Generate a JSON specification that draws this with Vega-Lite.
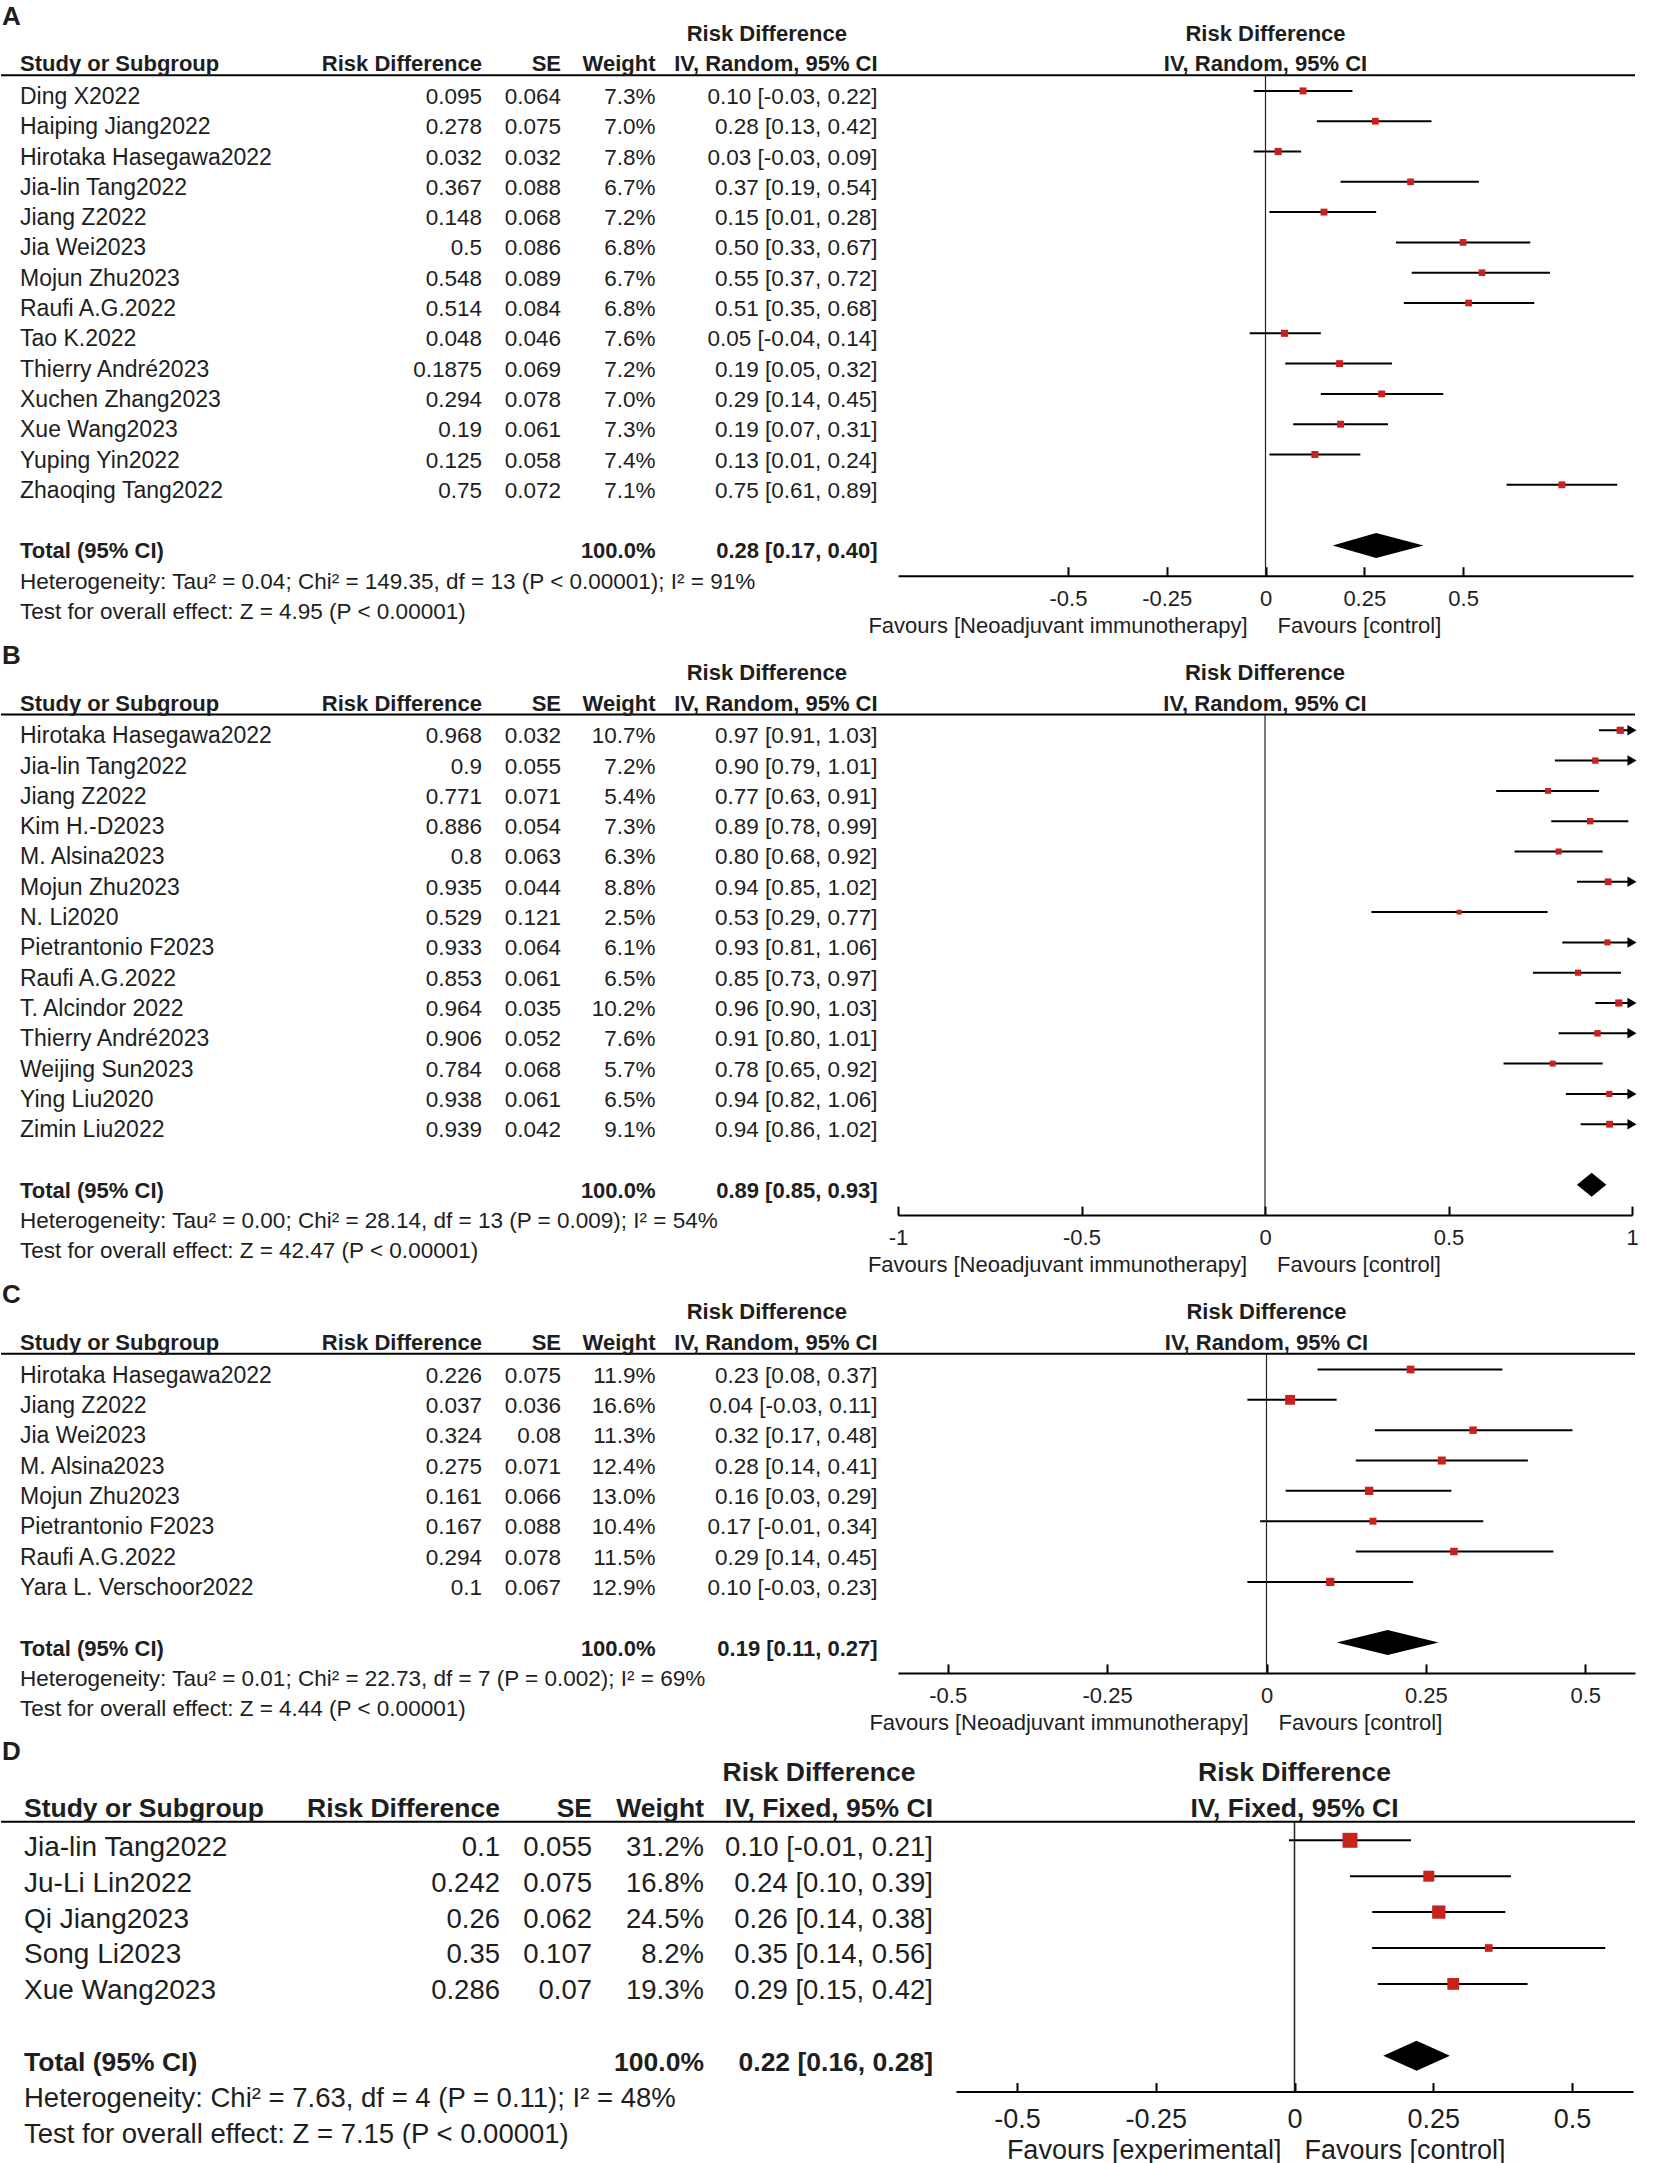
{
"$schema": "https://vega.github.io/schema/vega-lite/v6.json",
"padding": 0,
"background": "white",
"bounds": "flush",
"spacing": 90,
"config": {"view": {"stroke": null}, "text": {"font": "Liberation Sans", "color": "#1e1e1e", "baseline": "middle"}, "rule": {"color": "#000"}},
"datasets": {
"one": [{"k": 1}],
"A": [
{"row":1,"study":"Ding X2022","rd":0.095,"se":0.064,"w":0.073,"ci":"0.10 [-0.03, 0.22]","lo":-0.03,"hi":0.22},
{"row":2,"study":"Haiping Jiang2022","rd":0.278,"se":0.075,"w":0.070,"ci":"0.28 [0.13, 0.42]","lo":0.13,"hi":0.42},
{"row":3,"study":"Hirotaka Hasegawa2022","rd":0.032,"se":0.032,"w":0.078,"ci":"0.03 [-0.03, 0.09]","lo":-0.03,"hi":0.09},
{"row":4,"study":"Jia-lin Tang2022","rd":0.367,"se":0.088,"w":0.067,"ci":"0.37 [0.19, 0.54]","lo":0.19,"hi":0.54},
{"row":5,"study":"Jiang Z2022","rd":0.148,"se":0.068,"w":0.072,"ci":"0.15 [0.01, 0.28]","lo":0.01,"hi":0.28},
{"row":6,"study":"Jia Wei2023","rd":0.5,"se":0.086,"w":0.068,"ci":"0.50 [0.33, 0.67]","lo":0.33,"hi":0.67},
{"row":7,"study":"Mojun Zhu2023","rd":0.548,"se":0.089,"w":0.067,"ci":"0.55 [0.37, 0.72]","lo":0.37,"hi":0.72},
{"row":8,"study":"Raufi A.G.2022","rd":0.514,"se":0.084,"w":0.068,"ci":"0.51 [0.35, 0.68]","lo":0.35,"hi":0.68},
{"row":9,"study":"Tao K.2022","rd":0.048,"se":0.046,"w":0.076,"ci":"0.05 [-0.04, 0.14]","lo":-0.04,"hi":0.14},
{"row":10,"study":"Thierry André2023","rd":0.1875,"se":0.069,"w":0.072,"ci":"0.19 [0.05, 0.32]","lo":0.05,"hi":0.32},
{"row":11,"study":"Xuchen Zhang2023","rd":0.294,"se":0.078,"w":0.070,"ci":"0.29 [0.14, 0.45]","lo":0.14,"hi":0.45},
{"row":12,"study":"Xue Wang2023","rd":0.19,"se":0.061,"w":0.073,"ci":"0.19 [0.07, 0.31]","lo":0.07,"hi":0.31},
{"row":13,"study":"Yuping Yin2022","rd":0.125,"se":0.058,"w":0.074,"ci":"0.13 [0.01, 0.24]","lo":0.01,"hi":0.24},
{"row":14,"study":"Zhaoqing Tang2022","rd":0.75,"se":0.072,"w":0.071,"ci":"0.75 [0.61, 0.89]","lo":0.61,"hi":0.89}
],
"At": [{"row":16,"label":"Total (95% CI)","w":1,"ci":"0.28 [0.17, 0.40]","est":0.28,"lo":0.17,"hi":0.40}],
"An": [
{"row":17,"text":"Heterogeneity: Tau² = 0.04; Chi² = 149.35, df = 13 (P < 0.00001); I² = 91%"},
{"row":18,"text":"Test for overall effect: Z = 4.95 (P < 0.00001)"}
],
"B": [
{"row":1,"study":"Hirotaka Hasegawa2022","rd":0.968,"se":0.032,"w":0.107,"ci":"0.97 [0.91, 1.03]","lo":0.91,"hi":1.03},
{"row":2,"study":"Jia-lin Tang2022","rd":0.9,"se":0.055,"w":0.072,"ci":"0.90 [0.79, 1.01]","lo":0.79,"hi":1.01},
{"row":3,"study":"Jiang Z2022","rd":0.771,"se":0.071,"w":0.054,"ci":"0.77 [0.63, 0.91]","lo":0.63,"hi":0.91},
{"row":4,"study":"Kim H.-D2023","rd":0.886,"se":0.054,"w":0.073,"ci":"0.89 [0.78, 0.99]","lo":0.78,"hi":0.99},
{"row":5,"study":"M. Alsina2023","rd":0.8,"se":0.063,"w":0.063,"ci":"0.80 [0.68, 0.92]","lo":0.68,"hi":0.92},
{"row":6,"study":"Mojun Zhu2023","rd":0.935,"se":0.044,"w":0.088,"ci":"0.94 [0.85, 1.02]","lo":0.85,"hi":1.02},
{"row":7,"study":"N. Li2020","rd":0.529,"se":0.121,"w":0.025,"ci":"0.53 [0.29, 0.77]","lo":0.29,"hi":0.77},
{"row":8,"study":"Pietrantonio F2023","rd":0.933,"se":0.064,"w":0.061,"ci":"0.93 [0.81, 1.06]","lo":0.81,"hi":1.06},
{"row":9,"study":"Raufi A.G.2022","rd":0.853,"se":0.061,"w":0.065,"ci":"0.85 [0.73, 0.97]","lo":0.73,"hi":0.97},
{"row":10,"study":"T. Alcindor 2022","rd":0.964,"se":0.035,"w":0.102,"ci":"0.96 [0.90, 1.03]","lo":0.90,"hi":1.03},
{"row":11,"study":"Thierry André2023","rd":0.906,"se":0.052,"w":0.076,"ci":"0.91 [0.80, 1.01]","lo":0.80,"hi":1.01},
{"row":12,"study":"Weijing Sun2023","rd":0.784,"se":0.068,"w":0.057,"ci":"0.78 [0.65, 0.92]","lo":0.65,"hi":0.92},
{"row":13,"study":"Ying Liu2020","rd":0.938,"se":0.061,"w":0.065,"ci":"0.94 [0.82, 1.06]","lo":0.82,"hi":1.06},
{"row":14,"study":"Zimin Liu2022","rd":0.939,"se":0.042,"w":0.091,"ci":"0.94 [0.86, 1.02]","lo":0.86,"hi":1.02}
],
"Bt": [{"row":16,"label":"Total (95% CI)","w":1,"ci":"0.89 [0.85, 0.93]","est":0.89,"lo":0.85,"hi":0.93}],
"Bn": [
{"row":17,"text":"Heterogeneity: Tau² = 0.00; Chi² = 28.14, df = 13 (P = 0.009); I² = 54%"},
{"row":18,"text":"Test for overall effect: Z = 42.47 (P < 0.00001)"}
],
"C": [
{"row":1,"study":"Hirotaka Hasegawa2022","rd":0.226,"se":0.075,"w":0.119,"ci":"0.23 [0.08, 0.37]","lo":0.08,"hi":0.37},
{"row":2,"study":"Jiang Z2022","rd":0.037,"se":0.036,"w":0.166,"ci":"0.04 [-0.03, 0.11]","lo":-0.03,"hi":0.11},
{"row":3,"study":"Jia Wei2023","rd":0.324,"se":0.08,"w":0.113,"ci":"0.32 [0.17, 0.48]","lo":0.17,"hi":0.48},
{"row":4,"study":"M. Alsina2023","rd":0.275,"se":0.071,"w":0.124,"ci":"0.28 [0.14, 0.41]","lo":0.14,"hi":0.41},
{"row":5,"study":"Mojun Zhu2023","rd":0.161,"se":0.066,"w":0.130,"ci":"0.16 [0.03, 0.29]","lo":0.03,"hi":0.29},
{"row":6,"study":"Pietrantonio F2023","rd":0.167,"se":0.088,"w":0.104,"ci":"0.17 [-0.01, 0.34]","lo":-0.01,"hi":0.34},
{"row":7,"study":"Raufi A.G.2022","rd":0.294,"se":0.078,"w":0.115,"ci":"0.29 [0.14, 0.45]","lo":0.14,"hi":0.45},
{"row":8,"study":"Yara L. Verschoor2022","rd":0.1,"se":0.067,"w":0.129,"ci":"0.10 [-0.03, 0.23]","lo":-0.03,"hi":0.23}
],
"Ct": [{"row":10,"label":"Total (95% CI)","w":1,"ci":"0.19 [0.11, 0.27]","est":0.19,"lo":0.11,"hi":0.27}],
"Cn": [
{"row":11,"text":"Heterogeneity: Tau² = 0.01; Chi² = 22.73, df = 7 (P = 0.002); I² = 69%"},
{"row":12,"text":"Test for overall effect: Z = 4.44 (P < 0.00001)"}
],
"D": [
{"row":1,"study":"Jia-lin Tang2022","rd":0.1,"se":0.055,"w":0.312,"ci":"0.10 [-0.01, 0.21]","lo":-0.01,"hi":0.21},
{"row":2,"study":"Ju-Li Lin2022","rd":0.242,"se":0.075,"w":0.168,"ci":"0.24 [0.10, 0.39]","lo":0.10,"hi":0.39},
{"row":3,"study":"Qi Jiang2023","rd":0.26,"se":0.062,"w":0.245,"ci":"0.26 [0.14, 0.38]","lo":0.14,"hi":0.38},
{"row":4,"study":"Song Li2023","rd":0.35,"se":0.107,"w":0.082,"ci":"0.35 [0.14, 0.56]","lo":0.14,"hi":0.56},
{"row":5,"study":"Xue Wang2023","rd":0.286,"se":0.07,"w":0.193,"ci":"0.29 [0.15, 0.42]","lo":0.15,"hi":0.42}
],
"Dt": [{"row":7,"label":"Total (95% CI)","w":1,"ci":"0.22 [0.16, 0.28]","est":0.22,"lo":0.16,"hi":0.28}],
"Dn": [
{"row":8,"text":"Heterogeneity: Chi² = 7.63, df = 4 (P = 0.11); I² = 48%"},
{"row":9,"text":"Test for overall effect: Z = 7.15 (P < 0.00001)"}
]
},
"vconcat": [
{
"width": 1634, "height": 575.7,
"resolve": {"scale": {"x": "independent", "size": "independent"}, "axis": {"x": "independent"}},
"layer": [
{"data": {"name": "one"}, "mark": {"type": "rule", "strokeWidth": 2}, "encoding": {"y": {"datum": 0.48, "type": "quantitative", "axis": null, "scale": {"domain": [-2, 17], "reverse": true, "nice": false, "zero": false}}}},
{"data": {"name": "one"}, "mark": {"type": "text", "align": "left", "fontSize": 26, "fontWeight": "bold"}, "encoding": {"x": {"datum": 1, "type": "quantitative", "scale": {"domain": [0, 1634], "nice": false, "zero": false}, "axis": null}, "y": {"datum": -1.45, "type": "quantitative", "axis": null}, "text": {"value": "A"}}},
{"data": {"name": "one"}, "mark": {"type": "text", "align": "left", "fontSize": 22, "fontWeight": "bold", "dy": 6}, "encoding": {"x": {"datum": 19, "type": "quantitative", "scale": {"domain": [0, 1634], "nice": false, "zero": false}, "axis": null}, "y": {"datum": -0.08, "type": "quantitative", "axis": null}, "text": {"value": "Study or Subgroup"}}},
{"data": {"name": "one"}, "mark": {"type": "text", "align": "right", "fontSize": 22, "fontWeight": "bold", "dy": 6}, "encoding": {"x": {"datum": 481, "type": "quantitative", "scale": {"domain": [0, 1634], "nice": false, "zero": false}, "axis": null}, "y": {"datum": -0.08, "type": "quantitative", "axis": null}, "text": {"value": "Risk Difference"}}},
{"data": {"name": "one"}, "mark": {"type": "text", "align": "right", "fontSize": 22, "fontWeight": "bold", "dy": 6}, "encoding": {"x": {"datum": 560, "type": "quantitative", "scale": {"domain": [0, 1634], "nice": false, "zero": false}, "axis": null}, "y": {"datum": -0.08, "type": "quantitative", "axis": null}, "text": {"value": "SE"}}},
{"data": {"name": "one"}, "mark": {"type": "text", "align": "right", "fontSize": 22, "fontWeight": "bold", "dy": 6}, "encoding": {"x": {"datum": 654.5, "type": "quantitative", "scale": {"domain": [0, 1634], "nice": false, "zero": false}, "axis": null}, "y": {"datum": -0.08, "type": "quantitative", "axis": null}, "text": {"value": "Weight"}}},
{"data": {"name": "one"}, "mark": {"type": "text", "align": "right", "fontSize": 22, "fontWeight": "bold", "dy": 6}, "encoding": {"x": {"datum": 876.6, "type": "quantitative", "scale": {"domain": [0, 1634], "nice": false, "zero": false}, "axis": null}, "y": {"datum": -0.08, "type": "quantitative", "axis": null}, "text": {"value": "IV, Random, 95% CI"}}},
{"data": {"name": "one"}, "mark": {"type": "text", "align": "center", "fontSize": 22, "fontWeight": "bold", "dy": 6}, "encoding": {"x": {"datum": 765.8, "type": "quantitative", "scale": {"domain": [0, 1634], "nice": false, "zero": false}, "axis": null}, "y": {"datum": -1.08, "type": "quantitative", "axis": null}, "text": {"value": "Risk Difference"}}},
{"data": {"name": "A"}, "mark": {"type": "text", "align": "left", "fontSize": 23, "dy": 6}, "encoding": {"x": {"datum": 19, "type": "quantitative", "scale": {"domain": [0, 1634], "nice": false, "zero": false}, "axis": null}, "y": {"field": "row", "type": "quantitative", "axis": null}, "text": {"field": "study"}}},
{"data": {"name": "A"}, "mark": {"type": "text", "align": "right", "fontSize": 22.5, "dy": 6}, "encoding": {"x": {"datum": 481, "type": "quantitative", "scale": {"domain": [0, 1634], "nice": false, "zero": false}, "axis": null}, "y": {"field": "row", "type": "quantitative", "axis": null}, "text": {"field": "rd", "type": "nominal"}}},
{"data": {"name": "A"}, "mark": {"type": "text", "align": "right", "fontSize": 22.5, "dy": 6}, "encoding": {"x": {"datum": 560, "type": "quantitative", "scale": {"domain": [0, 1634], "nice": false, "zero": false}, "axis": null}, "y": {"field": "row", "type": "quantitative", "axis": null}, "text": {"field": "se", "type": "nominal"}}},
{"data": {"name": "A"}, "mark": {"type": "text", "align": "right", "fontSize": 22.5, "dy": 6}, "encoding": {"x": {"datum": 654.5, "type": "quantitative", "scale": {"domain": [0, 1634], "nice": false, "zero": false}, "axis": null}, "y": {"field": "row", "type": "quantitative", "axis": null}, "text": {"field": "w", "type": "quantitative", "format": ".1%"}}},
{"data": {"name": "A"}, "mark": {"type": "text", "align": "right", "fontSize": 22.5, "dy": 6}, "encoding": {"x": {"datum": 876.6, "type": "quantitative", "scale": {"domain": [0, 1634], "nice": false, "zero": false}, "axis": null}, "y": {"field": "row", "type": "quantitative", "axis": null}, "text": {"field": "ci"}}},
{"data": {"name": "At"}, "mark": {"type": "text", "align": "left", "fontSize": 22, "fontWeight": "bold", "dy": 6}, "encoding": {"x": {"datum": 19, "type": "quantitative", "scale": {"domain": [0, 1634], "nice": false, "zero": false}, "axis": null}, "y": {"field": "row", "type": "quantitative", "axis": null}, "text": {"field": "label"}}},
{"data": {"name": "At"}, "mark": {"type": "text", "align": "right", "fontSize": 22, "fontWeight": "bold", "dy": 6}, "encoding": {"x": {"datum": 654.5, "type": "quantitative", "scale": {"domain": [0, 1634], "nice": false, "zero": false}, "axis": null}, "y": {"field": "row", "type": "quantitative", "axis": null}, "text": {"field": "w", "type": "quantitative", "format": ".1%"}}},
{"data": {"name": "At"}, "mark": {"type": "text", "align": "right", "fontSize": 22, "fontWeight": "bold", "dy": 6}, "encoding": {"x": {"datum": 876.6, "type": "quantitative", "scale": {"domain": [0, 1634], "nice": false, "zero": false}, "axis": null}, "y": {"field": "row", "type": "quantitative", "axis": null}, "text": {"field": "ci"}}},
{"data": {"name": "An"}, "mark": {"type": "text", "align": "left", "fontSize": 22.5, "dy": 6}, "encoding": {"x": {"datum": 19, "type": "quantitative", "scale": {"domain": [0, 1634], "nice": false, "zero": false}, "axis": null}, "y": {"field": "row", "type": "quantitative", "axis": null}, "text": {"field": "text"}}},
{"data": {"name": "A"}, "mark": {"type": "rule", "strokeWidth": 2}, "encoding": {"x": {"field": "lo", "type": "quantitative", "scale": {"domain": [-0.93, 0.93], "range": [897, 1632], "nice": false, "zero": false, "clamp": true}, "axis": {"orient": "bottom", "values": [-0.5, -0.25, 0, 0.25, 0.5], "title": null, "grid": false, "domainColor": "#000", "domainWidth": 2, "tickColor": "#000", "tickWidth": 2, "tickSize": -9, "labelPadding": 21.5, "labelFontSize": 22, "labelFont": "Liberation Sans", "labelColor": "#1e1e1e", "labelFlush": false, "labelOverlap": false, "labelExpr": "datum.value < 0 ? '-' + format(-datum.value, '~g') : format(datum.value, '~g')"}}, "x2": {"field": "hi"}, "y": {"field": "row", "type": "quantitative", "axis": null}}},
{"data": {"name": "A"}, "mark": {"type": "point", "shape": "square", "filled": true, "color": "#c9211e", "opacity": 1, "strokeWidth": 0}, "encoding": {"x": {"field": "rd", "type": "quantitative", "scale": {"domain": [-0.93, 0.93], "range": [897, 1632], "nice": false, "zero": false, "clamp": true}, "axis": null}, "y": {"field": "row", "type": "quantitative", "axis": null}, "size": {"field": "w", "type": "quantitative", "scale": {"domain": [0, 0.1], "range": [0, 66]}, "legend": null}}},
{"data": {"name": "At"}, "mark": {"type": "point", "shape": "M-0.917,0L0,-0.264L1,0L0,0.264Z", "size": 8987, "filled": true, "color": "#000", "opacity": 1, "strokeWidth": 0}, "encoding": {"x": {"field": "est", "type": "quantitative", "scale": {"domain": [-0.93, 0.93], "range": [897, 1632], "nice": false, "zero": false, "clamp": true}, "axis": null}, "y": {"field": "row", "type": "quantitative", "axis": null}}},
{"data": {"name": "one"}, "mark": {"type": "rule", "strokeWidth": 1.2, "color": "#222"}, "encoding": {"x": {"datum": 0, "type": "quantitative", "scale": {"domain": [-0.93, 0.93], "range": [897, 1632], "nice": false, "zero": false, "clamp": true}, "axis": null}, "y": {"datum": 0.48, "type": "quantitative", "axis": null}, "y2": {"datum": 17}}},
{"data": {"name": "one"}, "mark": {"type": "text", "align": "center", "fontSize": 22, "fontWeight": "bold", "dy": 6}, "encoding": {"x": {"datum": 0, "type": "quantitative", "scale": {"domain": [-0.93, 0.93], "range": [897, 1632], "nice": false, "zero": false, "clamp": true}, "axis": null}, "y": {"datum": -1.08, "type": "quantitative", "axis": null}, "text": {"value": "Risk Difference"}}},
{"data": {"name": "one"}, "mark": {"type": "text", "align": "center", "fontSize": 22, "fontWeight": "bold", "dy": 6}, "encoding": {"x": {"datum": 0, "type": "quantitative", "scale": {"domain": [-0.93, 0.93], "range": [897, 1632], "nice": false, "zero": false, "clamp": true}, "axis": null}, "y": {"datum": -0.08, "type": "quantitative", "axis": null}, "text": {"value": "IV, Random, 95% CI"}}},
{"data": {"name": "one"}, "mark": {"type": "text", "align": "right", "fontSize": 22, "dx": -18, "dy": 6}, "encoding": {"x": {"datum": 0, "type": "quantitative", "scale": {"domain": [-0.93, 0.93], "range": [897, 1632], "nice": false, "zero": false, "clamp": true}, "axis": null}, "y": {"datum": 18.45, "type": "quantitative", "axis": null}, "text": {"value": "Favours [Neoadjuvant immunotherapy]"}}},
{"data": {"name": "one"}, "mark": {"type": "text", "align": "left", "fontSize": 22, "dx": 12, "dy": 6}, "encoding": {"x": {"datum": 0, "type": "quantitative", "scale": {"domain": [-0.93, 0.93], "range": [897, 1632], "nice": false, "zero": false, "clamp": true}, "axis": null}, "y": {"datum": 18.45, "type": "quantitative", "axis": null}, "text": {"value": "Favours [control]"}}}
]
},
{
"width": 1634, "height": 549.1,
"resolve": {"scale": {"x": "independent", "size": "independent"}, "axis": {"x": "independent"}},
"layer": [
{"data": {"name": "one"}, "mark": {"type": "rule", "strokeWidth": 2}, "encoding": {"y": {"datum": 0.48, "type": "quantitative", "axis": null, "scale": {"domain": [-1.122, 17], "reverse": true, "nice": false, "zero": false}}}},
{"data": {"name": "one"}, "mark": {"type": "text", "align": "left", "fontSize": 26, "fontWeight": "bold"}, "encoding": {"x": {"datum": 1, "type": "quantitative", "scale": {"domain": [0, 1634], "nice": false, "zero": false}, "axis": null}, "y": {"datum": -1.45, "type": "quantitative", "axis": null}, "text": {"value": "B"}}},
{"data": {"name": "one"}, "mark": {"type": "text", "align": "left", "fontSize": 22, "fontWeight": "bold", "dy": 6}, "encoding": {"x": {"datum": 19, "type": "quantitative", "scale": {"domain": [0, 1634], "nice": false, "zero": false}, "axis": null}, "y": {"datum": -0.08, "type": "quantitative", "axis": null}, "text": {"value": "Study or Subgroup"}}},
{"data": {"name": "one"}, "mark": {"type": "text", "align": "right", "fontSize": 22, "fontWeight": "bold", "dy": 6}, "encoding": {"x": {"datum": 481, "type": "quantitative", "scale": {"domain": [0, 1634], "nice": false, "zero": false}, "axis": null}, "y": {"datum": -0.08, "type": "quantitative", "axis": null}, "text": {"value": "Risk Difference"}}},
{"data": {"name": "one"}, "mark": {"type": "text", "align": "right", "fontSize": 22, "fontWeight": "bold", "dy": 6}, "encoding": {"x": {"datum": 560, "type": "quantitative", "scale": {"domain": [0, 1634], "nice": false, "zero": false}, "axis": null}, "y": {"datum": -0.08, "type": "quantitative", "axis": null}, "text": {"value": "SE"}}},
{"data": {"name": "one"}, "mark": {"type": "text", "align": "right", "fontSize": 22, "fontWeight": "bold", "dy": 6}, "encoding": {"x": {"datum": 654.5, "type": "quantitative", "scale": {"domain": [0, 1634], "nice": false, "zero": false}, "axis": null}, "y": {"datum": -0.08, "type": "quantitative", "axis": null}, "text": {"value": "Weight"}}},
{"data": {"name": "one"}, "mark": {"type": "text", "align": "right", "fontSize": 22, "fontWeight": "bold", "dy": 6}, "encoding": {"x": {"datum": 876.6, "type": "quantitative", "scale": {"domain": [0, 1634], "nice": false, "zero": false}, "axis": null}, "y": {"datum": -0.08, "type": "quantitative", "axis": null}, "text": {"value": "IV, Random, 95% CI"}}},
{"data": {"name": "one"}, "mark": {"type": "text", "align": "center", "fontSize": 22, "fontWeight": "bold", "dy": 6}, "encoding": {"x": {"datum": 765.8, "type": "quantitative", "scale": {"domain": [0, 1634], "nice": false, "zero": false}, "axis": null}, "y": {"datum": -1.08, "type": "quantitative", "axis": null}, "text": {"value": "Risk Difference"}}},
{"data": {"name": "B"}, "mark": {"type": "text", "align": "left", "fontSize": 23, "dy": 6}, "encoding": {"x": {"datum": 19, "type": "quantitative", "scale": {"domain": [0, 1634], "nice": false, "zero": false}, "axis": null}, "y": {"field": "row", "type": "quantitative", "axis": null}, "text": {"field": "study"}}},
{"data": {"name": "B"}, "mark": {"type": "text", "align": "right", "fontSize": 22.5, "dy": 6}, "encoding": {"x": {"datum": 481, "type": "quantitative", "scale": {"domain": [0, 1634], "nice": false, "zero": false}, "axis": null}, "y": {"field": "row", "type": "quantitative", "axis": null}, "text": {"field": "rd", "type": "nominal"}}},
{"data": {"name": "B"}, "mark": {"type": "text", "align": "right", "fontSize": 22.5, "dy": 6}, "encoding": {"x": {"datum": 560, "type": "quantitative", "scale": {"domain": [0, 1634], "nice": false, "zero": false}, "axis": null}, "y": {"field": "row", "type": "quantitative", "axis": null}, "text": {"field": "se", "type": "nominal"}}},
{"data": {"name": "B"}, "mark": {"type": "text", "align": "right", "fontSize": 22.5, "dy": 6}, "encoding": {"x": {"datum": 654.5, "type": "quantitative", "scale": {"domain": [0, 1634], "nice": false, "zero": false}, "axis": null}, "y": {"field": "row", "type": "quantitative", "axis": null}, "text": {"field": "w", "type": "quantitative", "format": ".1%"}}},
{"data": {"name": "B"}, "mark": {"type": "text", "align": "right", "fontSize": 22.5, "dy": 6}, "encoding": {"x": {"datum": 876.6, "type": "quantitative", "scale": {"domain": [0, 1634], "nice": false, "zero": false}, "axis": null}, "y": {"field": "row", "type": "quantitative", "axis": null}, "text": {"field": "ci"}}},
{"data": {"name": "Bt"}, "mark": {"type": "text", "align": "left", "fontSize": 22, "fontWeight": "bold", "dy": 6}, "encoding": {"x": {"datum": 19, "type": "quantitative", "scale": {"domain": [0, 1634], "nice": false, "zero": false}, "axis": null}, "y": {"field": "row", "type": "quantitative", "axis": null}, "text": {"field": "label"}}},
{"data": {"name": "Bt"}, "mark": {"type": "text", "align": "right", "fontSize": 22, "fontWeight": "bold", "dy": 6}, "encoding": {"x": {"datum": 654.5, "type": "quantitative", "scale": {"domain": [0, 1634], "nice": false, "zero": false}, "axis": null}, "y": {"field": "row", "type": "quantitative", "axis": null}, "text": {"field": "w", "type": "quantitative", "format": ".1%"}}},
{"data": {"name": "Bt"}, "mark": {"type": "text", "align": "right", "fontSize": 22, "fontWeight": "bold", "dy": 6}, "encoding": {"x": {"datum": 876.6, "type": "quantitative", "scale": {"domain": [0, 1634], "nice": false, "zero": false}, "axis": null}, "y": {"field": "row", "type": "quantitative", "axis": null}, "text": {"field": "ci"}}},
{"data": {"name": "Bn"}, "mark": {"type": "text", "align": "left", "fontSize": 22.5, "dy": 6}, "encoding": {"x": {"datum": 19, "type": "quantitative", "scale": {"domain": [0, 1634], "nice": false, "zero": false}, "axis": null}, "y": {"field": "row", "type": "quantitative", "axis": null}, "text": {"field": "text"}}},
{"data": {"name": "B"}, "mark": {"type": "rule", "strokeWidth": 2}, "encoding": {"x": {"field": "lo", "type": "quantitative", "scale": {"domain": [-1, 1], "range": [897, 1631], "nice": false, "zero": false, "clamp": true}, "axis": {"orient": "bottom", "values": [-1, -0.5, 0, 0.5, 1], "title": null, "grid": false, "domainColor": "#000", "domainWidth": 2, "tickColor": "#000", "tickWidth": 2, "tickSize": -9, "labelPadding": 21.5, "labelFontSize": 22, "labelFont": "Liberation Sans", "labelColor": "#1e1e1e", "labelFlush": false, "labelOverlap": false, "labelExpr": "datum.value < 0 ? '-' + format(-datum.value, '~g') : format(datum.value, '~g')"}}, "x2": {"field": "hi"}, "y": {"field": "row", "type": "quantitative", "axis": null}}},
{"data": {"name": "B"}, "mark": {"type": "point", "shape": "square", "filled": true, "color": "#c9211e", "opacity": 1, "strokeWidth": 0}, "encoding": {"x": {"field": "rd", "type": "quantitative", "scale": {"domain": [-1, 1], "range": [897, 1631], "nice": false, "zero": false, "clamp": true}, "axis": null}, "y": {"field": "row", "type": "quantitative", "axis": null}, "size": {"field": "w", "type": "quantitative", "scale": {"domain": [0, 0.1], "range": [15, 50]}, "legend": null}}},
{"data": {"name": "B"}, "transform": [{"filter": "datum.hi > 1"}], "mark": {"type": "point", "shape": "triangle-right", "filled": true, "color": "#000", "opacity": 1, "strokeWidth": 0, "size": 110}, "encoding": {"x": {"field": "hi", "type": "quantitative", "scale": {"domain": [-1, 1], "range": [897, 1631], "nice": false, "zero": false, "clamp": true}, "axis": null}, "y": {"field": "row", "type": "quantitative", "axis": null}}},
{"data": {"name": "Bt"}, "mark": {"type": "point", "shape": "M-1,0L0,-0.817L1,0L0,0.817Z", "size": 862, "filled": true, "color": "#000", "opacity": 1, "strokeWidth": 0}, "encoding": {"x": {"field": "est", "type": "quantitative", "scale": {"domain": [-1, 1], "range": [897, 1631], "nice": false, "zero": false, "clamp": true}, "axis": null}, "y": {"field": "row", "type": "quantitative", "axis": null}}},
{"data": {"name": "one"}, "mark": {"type": "rule", "strokeWidth": 1.2, "color": "#222"}, "encoding": {"x": {"datum": 0, "type": "quantitative", "scale": {"domain": [-1, 1], "range": [897, 1631], "nice": false, "zero": false, "clamp": true}, "axis": null}, "y": {"datum": 0.48, "type": "quantitative", "axis": null}, "y2": {"datum": 17}}},
{"data": {"name": "one"}, "mark": {"type": "text", "align": "center", "fontSize": 22, "fontWeight": "bold", "dy": 6}, "encoding": {"x": {"datum": 0, "type": "quantitative", "scale": {"domain": [-1, 1], "range": [897, 1631], "nice": false, "zero": false, "clamp": true}, "axis": null}, "y": {"datum": -1.08, "type": "quantitative", "axis": null}, "text": {"value": "Risk Difference"}}},
{"data": {"name": "one"}, "mark": {"type": "text", "align": "center", "fontSize": 22, "fontWeight": "bold", "dy": 6}, "encoding": {"x": {"datum": 0, "type": "quantitative", "scale": {"domain": [-1, 1], "range": [897, 1631], "nice": false, "zero": false, "clamp": true}, "axis": null}, "y": {"datum": -0.08, "type": "quantitative", "axis": null}, "text": {"value": "IV, Random, 95% CI"}}},
{"data": {"name": "one"}, "mark": {"type": "text", "align": "right", "fontSize": 22, "dx": -18, "dy": 6}, "encoding": {"x": {"datum": 0, "type": "quantitative", "scale": {"domain": [-1, 1], "range": [897, 1631], "nice": false, "zero": false, "clamp": true}, "axis": null}, "y": {"datum": 18.45, "type": "quantitative", "axis": null}, "text": {"value": "Favours [Neoadjuvant immunotherapy]"}}},
{"data": {"name": "one"}, "mark": {"type": "text", "align": "left", "fontSize": 22, "dx": 12, "dy": 6}, "encoding": {"x": {"datum": 0, "type": "quantitative", "scale": {"domain": [-1, 1], "range": [897, 1631], "nice": false, "zero": false, "clamp": true}, "axis": null}, "y": {"datum": 18.45, "type": "quantitative", "axis": null}, "text": {"value": "Favours [control]"}}}
]
},
{
"width": 1634, "height": 366.9,
"resolve": {"scale": {"x": "independent", "size": "independent"}, "axis": {"x": "independent"}},
"layer": [
{"data": {"name": "one"}, "mark": {"type": "rule", "strokeWidth": 2}, "encoding": {"y": {"datum": 0.48, "type": "quantitative", "axis": null, "scale": {"domain": [-1.093, 11], "reverse": true, "nice": false, "zero": false}}}},
{"data": {"name": "one"}, "mark": {"type": "text", "align": "left", "fontSize": 26, "fontWeight": "bold"}, "encoding": {"x": {"datum": 1, "type": "quantitative", "scale": {"domain": [0, 1634], "nice": false, "zero": false}, "axis": null}, "y": {"datum": -1.45, "type": "quantitative", "axis": null}, "text": {"value": "C"}}},
{"data": {"name": "one"}, "mark": {"type": "text", "align": "left", "fontSize": 22, "fontWeight": "bold", "dy": 6}, "encoding": {"x": {"datum": 19, "type": "quantitative", "scale": {"domain": [0, 1634], "nice": false, "zero": false}, "axis": null}, "y": {"datum": -0.08, "type": "quantitative", "axis": null}, "text": {"value": "Study or Subgroup"}}},
{"data": {"name": "one"}, "mark": {"type": "text", "align": "right", "fontSize": 22, "fontWeight": "bold", "dy": 6}, "encoding": {"x": {"datum": 481, "type": "quantitative", "scale": {"domain": [0, 1634], "nice": false, "zero": false}, "axis": null}, "y": {"datum": -0.08, "type": "quantitative", "axis": null}, "text": {"value": "Risk Difference"}}},
{"data": {"name": "one"}, "mark": {"type": "text", "align": "right", "fontSize": 22, "fontWeight": "bold", "dy": 6}, "encoding": {"x": {"datum": 560, "type": "quantitative", "scale": {"domain": [0, 1634], "nice": false, "zero": false}, "axis": null}, "y": {"datum": -0.08, "type": "quantitative", "axis": null}, "text": {"value": "SE"}}},
{"data": {"name": "one"}, "mark": {"type": "text", "align": "right", "fontSize": 22, "fontWeight": "bold", "dy": 6}, "encoding": {"x": {"datum": 654.5, "type": "quantitative", "scale": {"domain": [0, 1634], "nice": false, "zero": false}, "axis": null}, "y": {"datum": -0.08, "type": "quantitative", "axis": null}, "text": {"value": "Weight"}}},
{"data": {"name": "one"}, "mark": {"type": "text", "align": "right", "fontSize": 22, "fontWeight": "bold", "dy": 6}, "encoding": {"x": {"datum": 876.6, "type": "quantitative", "scale": {"domain": [0, 1634], "nice": false, "zero": false}, "axis": null}, "y": {"datum": -0.08, "type": "quantitative", "axis": null}, "text": {"value": "IV, Random, 95% CI"}}},
{"data": {"name": "one"}, "mark": {"type": "text", "align": "center", "fontSize": 22, "fontWeight": "bold", "dy": 6}, "encoding": {"x": {"datum": 765.8, "type": "quantitative", "scale": {"domain": [0, 1634], "nice": false, "zero": false}, "axis": null}, "y": {"datum": -1.08, "type": "quantitative", "axis": null}, "text": {"value": "Risk Difference"}}},
{"data": {"name": "C"}, "mark": {"type": "text", "align": "left", "fontSize": 23, "dy": 6}, "encoding": {"x": {"datum": 19, "type": "quantitative", "scale": {"domain": [0, 1634], "nice": false, "zero": false}, "axis": null}, "y": {"field": "row", "type": "quantitative", "axis": null}, "text": {"field": "study"}}},
{"data": {"name": "C"}, "mark": {"type": "text", "align": "right", "fontSize": 22.5, "dy": 6}, "encoding": {"x": {"datum": 481, "type": "quantitative", "scale": {"domain": [0, 1634], "nice": false, "zero": false}, "axis": null}, "y": {"field": "row", "type": "quantitative", "axis": null}, "text": {"field": "rd", "type": "nominal"}}},
{"data": {"name": "C"}, "mark": {"type": "text", "align": "right", "fontSize": 22.5, "dy": 6}, "encoding": {"x": {"datum": 560, "type": "quantitative", "scale": {"domain": [0, 1634], "nice": false, "zero": false}, "axis": null}, "y": {"field": "row", "type": "quantitative", "axis": null}, "text": {"field": "se", "type": "nominal"}}},
{"data": {"name": "C"}, "mark": {"type": "text", "align": "right", "fontSize": 22.5, "dy": 6}, "encoding": {"x": {"datum": 654.5, "type": "quantitative", "scale": {"domain": [0, 1634], "nice": false, "zero": false}, "axis": null}, "y": {"field": "row", "type": "quantitative", "axis": null}, "text": {"field": "w", "type": "quantitative", "format": ".1%"}}},
{"data": {"name": "C"}, "mark": {"type": "text", "align": "right", "fontSize": 22.5, "dy": 6}, "encoding": {"x": {"datum": 876.6, "type": "quantitative", "scale": {"domain": [0, 1634], "nice": false, "zero": false}, "axis": null}, "y": {"field": "row", "type": "quantitative", "axis": null}, "text": {"field": "ci"}}},
{"data": {"name": "Ct"}, "mark": {"type": "text", "align": "left", "fontSize": 22, "fontWeight": "bold", "dy": 6}, "encoding": {"x": {"datum": 19, "type": "quantitative", "scale": {"domain": [0, 1634], "nice": false, "zero": false}, "axis": null}, "y": {"field": "row", "type": "quantitative", "axis": null}, "text": {"field": "label"}}},
{"data": {"name": "Ct"}, "mark": {"type": "text", "align": "right", "fontSize": 22, "fontWeight": "bold", "dy": 6}, "encoding": {"x": {"datum": 654.5, "type": "quantitative", "scale": {"domain": [0, 1634], "nice": false, "zero": false}, "axis": null}, "y": {"field": "row", "type": "quantitative", "axis": null}, "text": {"field": "w", "type": "quantitative", "format": ".1%"}}},
{"data": {"name": "Ct"}, "mark": {"type": "text", "align": "right", "fontSize": 22, "fontWeight": "bold", "dy": 6}, "encoding": {"x": {"datum": 876.6, "type": "quantitative", "scale": {"domain": [0, 1634], "nice": false, "zero": false}, "axis": null}, "y": {"field": "row", "type": "quantitative", "axis": null}, "text": {"field": "ci"}}},
{"data": {"name": "Cn"}, "mark": {"type": "text", "align": "left", "fontSize": 22.5, "dy": 6}, "encoding": {"x": {"datum": 19, "type": "quantitative", "scale": {"domain": [0, 1634], "nice": false, "zero": false}, "axis": null}, "y": {"field": "row", "type": "quantitative", "axis": null}, "text": {"field": "text"}}},
{"data": {"name": "C"}, "mark": {"type": "rule", "strokeWidth": 2}, "encoding": {"x": {"field": "lo", "type": "quantitative", "scale": {"domain": [-0.578, 0.578], "range": [897, 1634], "nice": false, "zero": false, "clamp": true}, "axis": {"orient": "bottom", "values": [-0.5, -0.25, 0, 0.25, 0.5], "title": null, "grid": false, "domainColor": "#000", "domainWidth": 2, "tickColor": "#000", "tickWidth": 2, "tickSize": -9, "labelPadding": 21.5, "labelFontSize": 22, "labelFont": "Liberation Sans", "labelColor": "#1e1e1e", "labelFlush": false, "labelOverlap": false, "labelExpr": "datum.value < 0 ? '-' + format(-datum.value, '~g') : format(datum.value, '~g')"}}, "x2": {"field": "hi"}, "y": {"field": "row", "type": "quantitative", "axis": null}}},
{"data": {"name": "C"}, "mark": {"type": "point", "shape": "square", "filled": true, "color": "#c9211e", "opacity": 1, "strokeWidth": 0}, "encoding": {"x": {"field": "rd", "type": "quantitative", "scale": {"domain": [-0.578, 0.578], "range": [897, 1634], "nice": false, "zero": false, "clamp": true}, "axis": null}, "y": {"field": "row", "type": "quantitative", "axis": null}, "size": {"field": "w", "type": "quantitative", "scale": {"domain": [0.1, 0.17], "range": [45, 100], "zero": false}, "legend": null}}},
{"data": {"name": "Ct"}, "mark": {"type": "point", "shape": "M-1,0L0,-0.245L1,0L0,0.245Z", "size": 10404, "filled": true, "color": "#000", "opacity": 1, "strokeWidth": 0}, "encoding": {"x": {"field": "est", "type": "quantitative", "scale": {"domain": [-0.578, 0.578], "range": [897, 1634], "nice": false, "zero": false, "clamp": true}, "axis": null}, "y": {"field": "row", "type": "quantitative", "axis": null}}},
{"data": {"name": "one"}, "mark": {"type": "rule", "strokeWidth": 1.2, "color": "#222"}, "encoding": {"x": {"datum": 0, "type": "quantitative", "scale": {"domain": [-0.578, 0.578], "range": [897, 1634], "nice": false, "zero": false, "clamp": true}, "axis": null}, "y": {"datum": 0.48, "type": "quantitative", "axis": null}, "y2": {"datum": 11}}},
{"data": {"name": "one"}, "mark": {"type": "text", "align": "center", "fontSize": 22, "fontWeight": "bold", "dy": 6}, "encoding": {"x": {"datum": 0, "type": "quantitative", "scale": {"domain": [-0.578, 0.578], "range": [897, 1634], "nice": false, "zero": false, "clamp": true}, "axis": null}, "y": {"datum": -1.08, "type": "quantitative", "axis": null}, "text": {"value": "Risk Difference"}}},
{"data": {"name": "one"}, "mark": {"type": "text", "align": "center", "fontSize": 22, "fontWeight": "bold", "dy": 6}, "encoding": {"x": {"datum": 0, "type": "quantitative", "scale": {"domain": [-0.578, 0.578], "range": [897, 1634], "nice": false, "zero": false, "clamp": true}, "axis": null}, "y": {"datum": -0.08, "type": "quantitative", "axis": null}, "text": {"value": "IV, Random, 95% CI"}}},
{"data": {"name": "one"}, "mark": {"type": "text", "align": "right", "fontSize": 22, "dx": -18, "dy": 6}, "encoding": {"x": {"datum": 0, "type": "quantitative", "scale": {"domain": [-0.578, 0.578], "range": [897, 1634], "nice": false, "zero": false, "clamp": true}, "axis": null}, "y": {"datum": 12.45, "type": "quantitative", "axis": null}, "text": {"value": "Favours [Neoadjuvant immunotherapy]"}}},
{"data": {"name": "one"}, "mark": {"type": "text", "align": "left", "fontSize": 22, "dx": 12, "dy": 6}, "encoding": {"x": {"datum": 0, "type": "quantitative", "scale": {"domain": [-0.578, 0.578], "range": [897, 1634], "nice": false, "zero": false, "clamp": true}, "axis": null}, "y": {"datum": 12.45, "type": "quantitative", "axis": null}, "text": {"value": "Favours [control]"}}}
]
},
{
"width": 1634, "height": 328.6,
"resolve": {"scale": {"x": "independent", "size": "independent"}, "axis": {"x": "independent"}},
"layer": [
{"data": {"name": "one"}, "mark": {"type": "rule", "strokeWidth": 2}, "encoding": {"y": {"datum": 0.48, "type": "quantitative", "axis": null, "scale": {"domain": [-1.153, 8], "reverse": true, "nice": false, "zero": false}}}},
{"data": {"name": "one"}, "mark": {"type": "text", "align": "left", "fontSize": 26, "fontWeight": "bold"}, "encoding": {"x": {"datum": 1, "type": "quantitative", "scale": {"domain": [0, 1634], "nice": false, "zero": false}, "axis": null}, "y": {"datum": -1.45, "type": "quantitative", "axis": null}, "text": {"value": "D"}}},
{"data": {"name": "one"}, "mark": {"type": "text", "align": "left", "fontSize": 26.5, "fontWeight": "bold", "dy": 7.5}, "encoding": {"x": {"datum": 23, "type": "quantitative", "scale": {"domain": [0, 1634], "nice": false, "zero": false}, "axis": null}, "y": {"datum": -0.08, "type": "quantitative", "axis": null}, "text": {"value": "Study or Subgroup"}}},
{"data": {"name": "one"}, "mark": {"type": "text", "align": "right", "fontSize": 26.5, "fontWeight": "bold", "dy": 7.5}, "encoding": {"x": {"datum": 499, "type": "quantitative", "scale": {"domain": [0, 1634], "nice": false, "zero": false}, "axis": null}, "y": {"datum": -0.08, "type": "quantitative", "axis": null}, "text": {"value": "Risk Difference"}}},
{"data": {"name": "one"}, "mark": {"type": "text", "align": "right", "fontSize": 26.5, "fontWeight": "bold", "dy": 7.5}, "encoding": {"x": {"datum": 591, "type": "quantitative", "scale": {"domain": [0, 1634], "nice": false, "zero": false}, "axis": null}, "y": {"datum": -0.08, "type": "quantitative", "axis": null}, "text": {"value": "SE"}}},
{"data": {"name": "one"}, "mark": {"type": "text", "align": "right", "fontSize": 26.5, "fontWeight": "bold", "dy": 7.5}, "encoding": {"x": {"datum": 703, "type": "quantitative", "scale": {"domain": [0, 1634], "nice": false, "zero": false}, "axis": null}, "y": {"datum": -0.08, "type": "quantitative", "axis": null}, "text": {"value": "Weight"}}},
{"data": {"name": "one"}, "mark": {"type": "text", "align": "right", "fontSize": 26.5, "fontWeight": "bold", "dy": 7.5}, "encoding": {"x": {"datum": 932, "type": "quantitative", "scale": {"domain": [0, 1634], "nice": false, "zero": false}, "axis": null}, "y": {"datum": -0.08, "type": "quantitative", "axis": null}, "text": {"value": "IV, Fixed, 95% CI"}}},
{"data": {"name": "one"}, "mark": {"type": "text", "align": "center", "fontSize": 26.5, "fontWeight": "bold", "dy": 7.5}, "encoding": {"x": {"datum": 818, "type": "quantitative", "scale": {"domain": [0, 1634], "nice": false, "zero": false}, "axis": null}, "y": {"datum": -1.08, "type": "quantitative", "axis": null}, "text": {"value": "Risk Difference"}}},
{"data": {"name": "D"}, "mark": {"type": "text", "align": "left", "fontSize": 28, "dy": 7.5}, "encoding": {"x": {"datum": 23, "type": "quantitative", "scale": {"domain": [0, 1634], "nice": false, "zero": false}, "axis": null}, "y": {"field": "row", "type": "quantitative", "axis": null}, "text": {"field": "study"}}},
{"data": {"name": "D"}, "mark": {"type": "text", "align": "right", "fontSize": 27.5, "dy": 7.5}, "encoding": {"x": {"datum": 499, "type": "quantitative", "scale": {"domain": [0, 1634], "nice": false, "zero": false}, "axis": null}, "y": {"field": "row", "type": "quantitative", "axis": null}, "text": {"field": "rd", "type": "nominal"}}},
{"data": {"name": "D"}, "mark": {"type": "text", "align": "right", "fontSize": 27.5, "dy": 7.5}, "encoding": {"x": {"datum": 591, "type": "quantitative", "scale": {"domain": [0, 1634], "nice": false, "zero": false}, "axis": null}, "y": {"field": "row", "type": "quantitative", "axis": null}, "text": {"field": "se", "type": "nominal"}}},
{"data": {"name": "D"}, "mark": {"type": "text", "align": "right", "fontSize": 27.5, "dy": 7.5}, "encoding": {"x": {"datum": 703, "type": "quantitative", "scale": {"domain": [0, 1634], "nice": false, "zero": false}, "axis": null}, "y": {"field": "row", "type": "quantitative", "axis": null}, "text": {"field": "w", "type": "quantitative", "format": ".1%"}}},
{"data": {"name": "D"}, "mark": {"type": "text", "align": "right", "fontSize": 27.5, "dy": 7.5}, "encoding": {"x": {"datum": 932, "type": "quantitative", "scale": {"domain": [0, 1634], "nice": false, "zero": false}, "axis": null}, "y": {"field": "row", "type": "quantitative", "axis": null}, "text": {"field": "ci"}}},
{"data": {"name": "Dt"}, "mark": {"type": "text", "align": "left", "fontSize": 26.5, "fontWeight": "bold", "dy": 7.5}, "encoding": {"x": {"datum": 23, "type": "quantitative", "scale": {"domain": [0, 1634], "nice": false, "zero": false}, "axis": null}, "y": {"field": "row", "type": "quantitative", "axis": null}, "text": {"field": "label"}}},
{"data": {"name": "Dt"}, "mark": {"type": "text", "align": "right", "fontSize": 26.5, "fontWeight": "bold", "dy": 7.5}, "encoding": {"x": {"datum": 703, "type": "quantitative", "scale": {"domain": [0, 1634], "nice": false, "zero": false}, "axis": null}, "y": {"field": "row", "type": "quantitative", "axis": null}, "text": {"field": "w", "type": "quantitative", "format": ".1%"}}},
{"data": {"name": "Dt"}, "mark": {"type": "text", "align": "right", "fontSize": 26.5, "fontWeight": "bold", "dy": 7.5}, "encoding": {"x": {"datum": 932, "type": "quantitative", "scale": {"domain": [0, 1634], "nice": false, "zero": false}, "axis": null}, "y": {"field": "row", "type": "quantitative", "axis": null}, "text": {"field": "ci"}}},
{"data": {"name": "Dn"}, "mark": {"type": "text", "align": "left", "fontSize": 27.5, "dy": 7.5}, "encoding": {"x": {"datum": 23, "type": "quantitative", "scale": {"domain": [0, 1634], "nice": false, "zero": false}, "axis": null}, "y": {"field": "row", "type": "quantitative", "axis": null}, "text": {"field": "text"}}},
{"data": {"name": "D"}, "mark": {"type": "rule", "strokeWidth": 2}, "encoding": {"x": {"field": "lo", "type": "quantitative", "scale": {"domain": [-0.61, 0.61], "range": [955, 1632], "nice": false, "zero": false, "clamp": true}, "axis": {"orient": "bottom", "values": [-0.5, -0.25, 0, 0.25, 0.5], "title": null, "grid": false, "domainColor": "#000", "domainWidth": 2, "tickColor": "#000", "tickWidth": 2, "tickSize": -9, "labelPadding": 23.7, "labelFontSize": 27, "labelFont": "Liberation Sans", "labelColor": "#1e1e1e", "labelFlush": false, "labelOverlap": false, "labelExpr": "datum.value < 0 ? '-' + format(-datum.value, '~g') : format(datum.value, '~g')"}}, "x2": {"field": "hi"}, "y": {"field": "row", "type": "quantitative", "axis": null}}},
{"data": {"name": "D"}, "mark": {"type": "point", "shape": "square", "filled": true, "color": "#c9211e", "opacity": 1, "strokeWidth": 0}, "encoding": {"x": {"field": "rd", "type": "quantitative", "scale": {"domain": [-0.61, 0.61], "range": [955, 1632], "nice": false, "zero": false, "clamp": true}, "axis": null}, "y": {"field": "row", "type": "quantitative", "axis": null}, "size": {"field": "w", "type": "quantitative", "scale": {"domain": [0, 0.1], "range": [0, 72]}, "legend": null}}},
{"data": {"name": "Dt"}, "mark": {"type": "point", "shape": "M-1,0L0,-0.45L1,0L0,0.45Z", "size": 4436, "filled": true, "color": "#000", "opacity": 1, "strokeWidth": 0}, "encoding": {"x": {"field": "est", "type": "quantitative", "scale": {"domain": [-0.61, 0.61], "range": [955, 1632], "nice": false, "zero": false, "clamp": true}, "axis": null}, "y": {"field": "row", "type": "quantitative", "axis": null}}},
{"data": {"name": "one"}, "mark": {"type": "rule", "strokeWidth": 1.5, "color": "#222"}, "encoding": {"x": {"datum": 0, "type": "quantitative", "scale": {"domain": [-0.61, 0.61], "range": [955, 1632], "nice": false, "zero": false, "clamp": true}, "axis": null}, "y": {"datum": 0.48, "type": "quantitative", "axis": null}, "y2": {"datum": 8}}},
{"data": {"name": "one"}, "mark": {"type": "text", "align": "center", "fontSize": 26.5, "fontWeight": "bold", "dy": 7.5}, "encoding": {"x": {"datum": 0, "type": "quantitative", "scale": {"domain": [-0.61, 0.61], "range": [955, 1632], "nice": false, "zero": false, "clamp": true}, "axis": null}, "y": {"datum": -1.08, "type": "quantitative", "axis": null}, "text": {"value": "Risk Difference"}}},
{"data": {"name": "one"}, "mark": {"type": "text", "align": "center", "fontSize": 26.5, "fontWeight": "bold", "dy": 7.5}, "encoding": {"x": {"datum": 0, "type": "quantitative", "scale": {"domain": [-0.61, 0.61], "range": [955, 1632], "nice": false, "zero": false, "clamp": true}, "axis": null}, "y": {"datum": -0.08, "type": "quantitative", "axis": null}, "text": {"value": "IV, Fixed, 95% CI"}}},
{"data": {"name": "one"}, "mark": {"type": "text", "align": "right", "fontSize": 27, "dx": -13, "dy": 7.5}, "encoding": {"x": {"datum": 0, "type": "quantitative", "scale": {"domain": [-0.61, 0.61], "range": [955, 1632], "nice": false, "zero": false, "clamp": true}, "axis": null}, "y": {"datum": 9.45, "type": "quantitative", "axis": null}, "text": {"value": "Favours [experimental]"}}},
{"data": {"name": "one"}, "mark": {"type": "text", "align": "left", "fontSize": 27, "dx": 10, "dy": 7.5}, "encoding": {"x": {"datum": 0, "type": "quantitative", "scale": {"domain": [-0.61, 0.61], "range": [955, 1632], "nice": false, "zero": false, "clamp": true}, "axis": null}, "y": {"datum": 9.45, "type": "quantitative", "axis": null}, "text": {"value": "Favours [control]"}}}
]
}
]
}
